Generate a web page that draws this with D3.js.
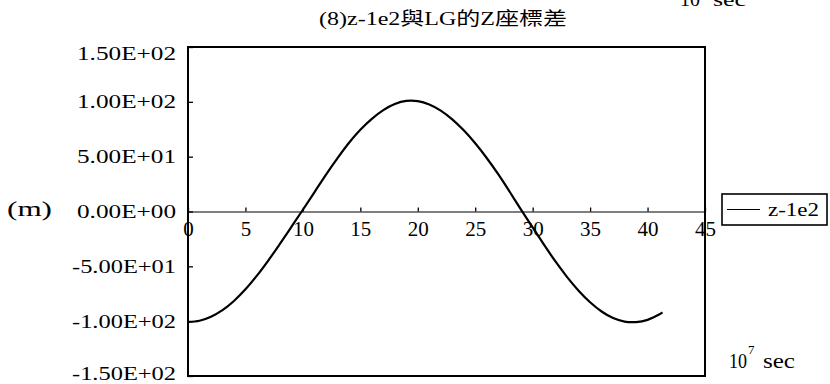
<!DOCTYPE html>
<html>
<head>
<meta charset="utf-8">
<script src="https://cdn.jsdelivr.net/npm/d3@7/dist/d3.min.js"></script>
<style>
  html, body { margin: 0; padding: 0; background: #fff; }
  svg { display: block; }
</style>
</head>
<body>
<svg id="chart" width="830" height="384"></svg>
<script>
// Time in units of 10^7 sec
const timeValues = [0, 1, 2, 3, 4, 5, 6, 7, 8, 9, 10, 11, 12, 13, 14, 15, 16, 17, 18, 19, 20,
  21, 22, 23, 24, 25, 26, 27, 28, 29, 30, 31, 32, 33, 34, 35, 36, 37, 38, 39, 40, 41, 41.3];
// Z-coordinate difference, metres
const zDiff = [-100.6, -99.6, -96, -90, -81.6, -71, -58.5, -44.5, -29.5, -14, 1.6, 17.5, 33.5,
  48.5, 62.5, 74.5, 84.5, 92.5, 98, 100.8, 100.6, 97.6, 92, 84, 74, 62.2, 48.8, 34, 18, 1.5,
  -14.5, -30.5, -45.8, -59.8, -72.2, -82.8, -91.2, -97.2, -100.4, -100.8, -98.8, -94, -92];
const seriesName = "z-1e2";
const xTicks = [0, 5, 10, 15, 20, 25, 30, 35, 40, 45];
const yTicks = [150, 100, 50, 0, -50, -100, -150];
const yTickLabels = ["1.50E+02", "1.00E+02", "5.00E+01", "0.00E+00", "-5.00E+01", "-1.00E+02", "-1.50E+02"];
const titleText = "(8)z-1e2與LG的Z座標差";

const FONT = "Liberation Serif, Noto Sans CJK TC, serif";

const svg = d3.select("#chart");
const plot = { left: 188, right: 705, top: 47, bottom: 376 };

const x = d3.scaleLinear().domain([0, 45]).range([plot.left, plot.right]);
const y = d3.scaleLinear().domain([-150, 150]).range([plot.bottom, plot.top]);

// text fitted to a fixed run length
function fitText(parent, px, py, str, size, len, anchor) {
  return parent.append("text")
    .attr("x", px).attr("y", py)
    .attr("text-anchor", anchor || "start")
    .attr("textLength", len)
    .attr("lengthAdjust", "spacingAndGlyphs")
    .attr("font-family", FONT)
    .attr("font-size", size)
    .attr("fill", "#000")
    .text(str);
}

// title
fitText(svg, 443, 25, titleText, 18, 248, "middle");

// unit label partly above the top edge
const topUnit = svg.append("text").attr("y", 6)
  .attr("font-family", FONT).attr("font-size", 19);
topUnit.append("tspan").attr("x", 680).attr("textLength", 20).attr("lengthAdjust", "spacingAndGlyphs").text("10");
topUnit.append("tspan").attr("x", 701).attr("dy", -14).attr("font-size", 13).text("7");
topUnit.append("tspan").attr("x", 713).attr("dy", 14).attr("textLength", 33).attr("lengthAdjust", "spacingAndGlyphs").text("sec");

// y axis
const yAxis = d3.axisLeft(y)
  .tickValues(yTicks)
  .tickFormat((d, i) => yTickLabels[i])
  .tickSizeInner(-5)
  .tickSizeOuter(0)
  .tickPadding(12);
const gy = svg.append("g").attr("transform", `translate(${plot.left},0)`).call(yAxis);
gy.attr("font-family", FONT).attr("font-size", 18);
gy.select(".domain").remove();
gy.selectAll(".tick line").attr("stroke", "#000").attr("stroke-width", 1.3);
gy.selectAll(".tick text")
  .attr("x", -12)
  .attr("dy", null)
  .attr("y", d => d === 150 ? 12 : d === -150 ? 3 : 6)
  .attr("textLength", (d, i) => yTickLabels[i].startsWith("-") ? 104 : 99)
  .attr("lengthAdjust", "spacingAndGlyphs")
  .attr("font-family", FONT)
  .attr("fill", "#000");

// x axis through zero
const xAxis = d3.axisBottom(x)
  .tickValues(xTicks)
  .tickSizeInner(-4)
  .tickSizeOuter(0)
  .tickPadding(0);
const gx = svg.append("g").attr("transform", `translate(0,${y(0)})`).call(xAxis);
gx.attr("font-family", FONT).attr("font-size", 21);
gx.select(".domain").attr("stroke", "#000").attr("stroke-width", 1.2);
gx.selectAll(".tick line").attr("stroke", "#000").attr("stroke-width", 1.3);
gx.selectAll(".tick text")
  .attr("y", 24)
  .attr("dy", null)
  .attr("font-family", FONT)
  .attr("fill", "#000");

// plot frame
svg.append("rect")
  .attr("x", plot.left).attr("y", plot.top)
  .attr("width", plot.right - plot.left).attr("height", plot.bottom - plot.top)
  .attr("fill", "none").attr("stroke", "#000").attr("stroke-width", 2);

// series line
const line = d3.line()
  .x((d, i) => x(timeValues[i]))
  .y(d => y(d))
  .curve(d3.curveCatmullRom);
svg.append("path")
  .datum(zDiff)
  .attr("d", line)
  .attr("fill", "none")
  .attr("stroke", "#000")
  .attr("stroke-width", 2.2);

// y unit
fitText(svg, 7, 216, "(m)", 22, 45, "start");

// x unit
const botUnit = svg.append("text").attr("y", 368)
  .attr("font-family", FONT).attr("font-size", 20);
botUnit.append("tspan").attr("x", 729).attr("textLength", 18).attr("lengthAdjust", "spacingAndGlyphs").text("10");
botUnit.append("tspan").attr("x", 748).attr("dy", -14).attr("font-size", 13).text("7");
botUnit.append("tspan").attr("x", 763).attr("dy", 14).attr("textLength", 32).attr("lengthAdjust", "spacingAndGlyphs").text("sec");

// legend
const lg = svg.append("g");
lg.append("rect")
  .attr("x", 722).attr("y", 194).attr("width", 105).attr("height", 31)
  .attr("fill", "#fff").attr("stroke", "#000").attr("stroke-width", 1.6);
lg.append("line")
  .attr("x1", 727).attr("x2", 760).attr("y1", 209.5).attr("y2", 209.5)
  .attr("stroke", "#000").attr("stroke-width", 1.2);
fitText(lg, 768, 216, seriesName, 19, 51, "start");
</script>
</body>
</html>
